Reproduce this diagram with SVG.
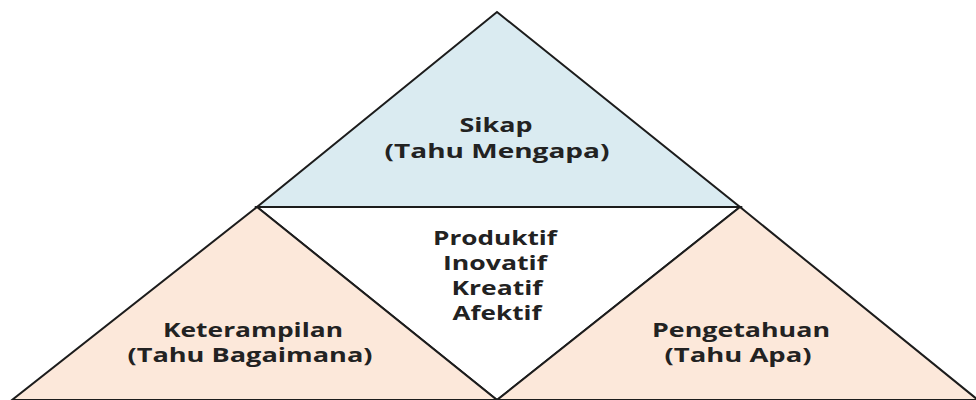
<svg xmlns="http://www.w3.org/2000/svg" width="976" height="400" viewBox="0 0 976 400">
<style>
.tri{stroke:#1c1c1c;stroke-width:2;stroke-linejoin:miter}
.blue{fill:#DAEBF1}
.peach{fill:#FCE8DA}
.white{fill:#FFFFFF}
text{font-family:"Open Sans","Liberation Sans",sans-serif;font-weight:bold;font-size:19px;fill:#222;text-anchor:middle}
</style>
<rect width="976" height="400" fill="#FFFFFF"/>
<g id="center">
<polygon class="tri white" points="257,207 740,207 497,400"/>
<text x="495" y="245" textLength="124" lengthAdjust="spacingAndGlyphs">Produktif</text>
<text x="495" y="270" textLength="104" lengthAdjust="spacingAndGlyphs">Inovatif</text>
<text x="497" y="295" textLength="91" lengthAdjust="spacingAndGlyphs">Kreatif</text>
<text x="497" y="320" textLength="89" lengthAdjust="spacingAndGlyphs">Afektif</text>
</g>
<g id="sikap">
<polygon class="tri blue" points="497,12 740,207 257,207"/>
<text x="496" y="132" textLength="73" lengthAdjust="spacingAndGlyphs">Sikap</text>
<text x="497" y="158" textLength="225" lengthAdjust="spacingAndGlyphs">(Tahu Mengapa)</text>
</g>
<g id="keterampilan">
<polygon class="tri peach" points="257,207 497,400 12,400"/>
<text x="253" y="337" textLength="180" lengthAdjust="spacingAndGlyphs">Keterampilan</text>
<text x="250" y="362" textLength="245" lengthAdjust="spacingAndGlyphs">(Tahu Bagaimana)</text>
</g>
<g id="pengetahuan">
<polygon class="tri peach" points="740,207 978,400 497,400"/>
<text x="741" y="337" textLength="178" lengthAdjust="spacingAndGlyphs">Pengetahuan</text>
<text x="738" y="362" textLength="147" lengthAdjust="spacingAndGlyphs">(Tahu Apa)</text>
</g>
<g id="connectors"></g>
</svg>
